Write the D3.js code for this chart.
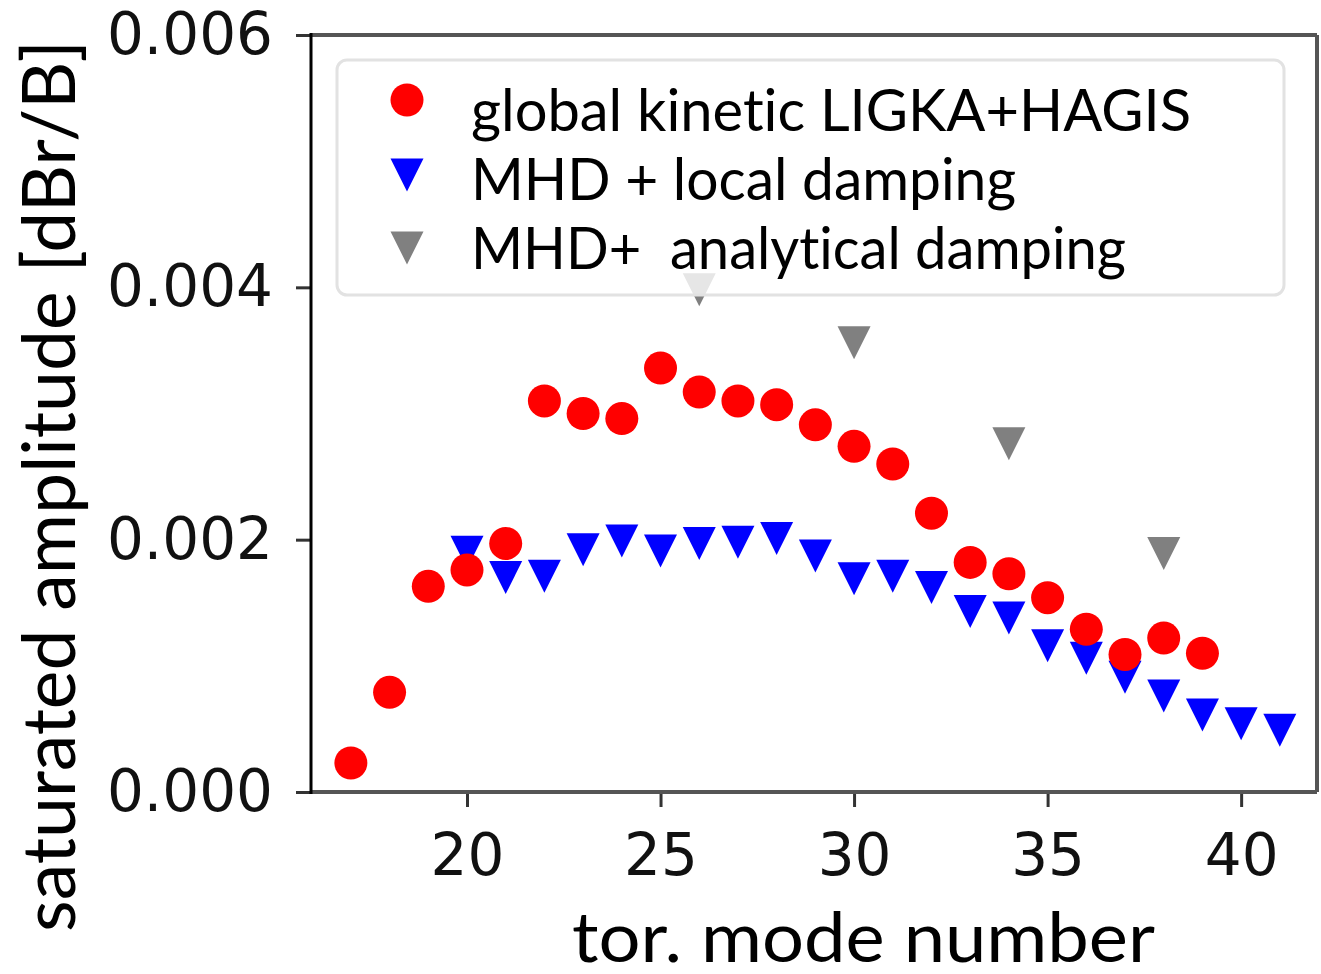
<!DOCTYPE html>
<html>
<head>
<meta charset="utf-8">
<script src="https://cdn.jsdelivr.net/npm/d3@7"></script>
<style>
  body { margin: 0; background: #fff; }
  svg { display: block; }
  text { font-variant-ligatures: none; font-feature-settings: "liga" 0; }
</style>
</head>
<body>
<svg id="chart" width="1321" height="974"></svg>
<script>
// data
var modeKinetic = [17, 18, 19, 20, 21, 22, 23, 24, 25, 26, 27, 28, 29, 30, 31, 32, 33, 34, 35, 36, 37, 38, 39];
var ampKinetic  = [0.00023, 0.00079, 0.00163, 0.00176, 0.00197, 0.0031, 0.0030, 0.00296, 0.00336, 0.00317,
                   0.0031, 0.00307, 0.00291, 0.00274, 0.0026, 0.00221, 0.00182, 0.00173, 0.00154, 0.00129,
                   0.00109, 0.00122, 0.0011];

var modeLocal = [20, 21, 22, 23, 24, 25, 26, 27, 28, 29, 30, 31, 32, 33, 34, 35, 36, 37, 38, 39, 40, 41];
var ampLocal  = [0.0019, 0.0017, 0.00171, 0.00192, 0.00199, 0.00191, 0.00197, 0.00198, 0.00201, 0.00187,
                 0.00169, 0.00171, 0.00162, 0.00143, 0.00138, 0.00116, 0.00106, 0.00091, 0.00076, 0.00061,
                 0.00054, 0.00049];

var modeAnalytic = [26, 30, 34, 38];
var ampAnalytic  = [0.00398, 0.00356, 0.00276, 0.00189];

var xTicks = [20, 25, 30, 35, 40];
var yTicks = [0, 0.002, 0.004, 0.006];

var legendLabels = ["global kinetic LIGKA+HAGIS", "MHD + local damping", "MHD+  analytical damping"];

var labelFont = "Lato, 'Open Sans', sans-serif";
var tickFont = "'DejaVu Sans', sans-serif";

var svg = d3.select("#chart");
var plotLeft = 311, plotRight = 1317, plotTop = 35, plotBottom = 792;

var x = d3.scaleLinear().domain([15.97, 41.96]).range([plotLeft, plotRight]);
var y = d3.scaleLinear().domain([0, 0.006]).range([plotBottom, plotTop]);

svg.append("rect").attr("width", 1321).attr("height", 974).attr("fill", "#fff");

function zip(xs, ys) { return xs.map(function(v, i) { return {n: v, a: ys[i]}; }); }

var s = 16.5;
function tri(cx, cy) {
    return "M" + (cx - s) + "," + (cy - s) + "L" + (cx + s) + "," + (cy - s) + "L" + cx + "," + (cy + s) + "Z";
}

var plot = svg.append("g");

plot.selectAll("path.local")
    .data(zip(modeLocal, ampLocal))
  .enter().append("path")
    .attr("class", "local")
    .attr("d", function(d) { return tri(x(d.n), y(d.a)); })
    .attr("fill", "#0000ff");

plot.selectAll("path.analytic")
    .data(zip(modeAnalytic, ampAnalytic))
  .enter().append("path")
    .attr("class", "analytic")
    .attr("d", function(d) { return tri(x(d.n), y(d.a)); })
    .attr("fill", "#808080");

plot.selectAll("circle.kinetic")
    .data(zip(modeKinetic, ampKinetic))
  .enter().append("circle")
    .attr("class", "kinetic")
    .attr("cx", function(d) { return x(d.n); })
    .attr("cy", function(d) { return y(d.a); })
    .attr("r", s)
    .attr("fill", "#ff0000");

// axes
var xAxis = svg.append("g")
    .attr("transform", "translate(0," + plotBottom + ")")
    .call(d3.axisBottom(x).tickValues(xTicks).tickSize(15).tickSizeOuter(0).tickPadding(27));
var yAxis = svg.append("g")
    .attr("transform", "translate(" + plotLeft + ",0)")
    .call(d3.axisLeft(y).tickValues(yTicks).tickFormat(d3.format(".3f")).tickSize(15).tickSizeOuter(0).tickPadding(23));

[xAxis, yAxis].forEach(function(g) {
    g.select(".domain").remove();
    g.selectAll(".tick line").attr("stroke", "#333").attr("stroke-width", 3);
    g.selectAll(".tick text")
        .attr("fill", "#111")
        .style("font-family", tickFont)
        .style("font-size", "58px");
});

// spines
svg.append("line").attr("x1", plotLeft).attr("x2", plotRight).attr("y1", plotTop).attr("y2", plotTop)
    .attr("stroke", "#555").attr("stroke-width", 4);
svg.append("line").attr("x1", plotLeft).attr("x2", plotRight).attr("y1", plotBottom).attr("y2", plotBottom)
    .attr("stroke", "#555").attr("stroke-width", 4);
svg.append("line").attr("x1", plotRight).attr("x2", plotRight).attr("y1", plotTop).attr("y2", plotBottom)
    .attr("stroke", "#555").attr("stroke-width", 4);
svg.append("line").attr("x1", plotLeft).attr("x2", plotLeft).attr("y1", plotTop - 2).attr("y2", plotBottom + 2)
    .attr("stroke", "#000").attr("stroke-width", 3);

// legend
var lg = svg.append("g");
lg.append("rect")
    .attr("x", 337).attr("y", 60).attr("width", 947).attr("height", 235)
    .attr("rx", 10).attr("ry", 10)
    .attr("fill", "#fff").attr("fill-opacity", 0.8)
    .attr("stroke", "#e2e2e2").attr("stroke-width", 3);

lg.append("circle").attr("cx", 407).attr("cy", 100).attr("r", s).attr("fill", "#ff0000");
lg.append("path").attr("d", tri(407, 175)).attr("fill", "#0000ff");
lg.append("path").attr("d", tri(407, 248)).attr("fill", "#808080");

var legendY = [131, 200, 269];
var legendW = [720, 545, 655];
lg.selectAll("text")
    .data(legendLabels)
  .enter().append("text")
    .attr("x", 471)
    .attr("y", function(d, i) { return legendY[i]; })
    .attr("textLength", function(d, i) { return legendW[i]; })
    .attr("lengthAdjust", "spacingAndGlyphs")
    .style("font-family", labelFont)
    .style("font-size", "58px")
    .style("white-space", "pre")
    .attr("fill", "#000")
    .text(function(d) { return d; });

// axis labels
svg.append("text")
    .attr("x", 572).attr("y", 962)
    .attr("textLength", 583).attr("lengthAdjust", "spacingAndGlyphs")
    .style("font-family", labelFont).style("font-size", "70px")
    .text("tor. mode number");

svg.append("text")
    .attr("transform", "translate(75,932) rotate(-90)")
    .attr("textLength", 892).attr("lengthAdjust", "spacingAndGlyphs")
    .style("font-family", labelFont).style("font-size", "74px")
    .text("saturated amplitude [dBr/B]");
</script>
</body>
</html>
